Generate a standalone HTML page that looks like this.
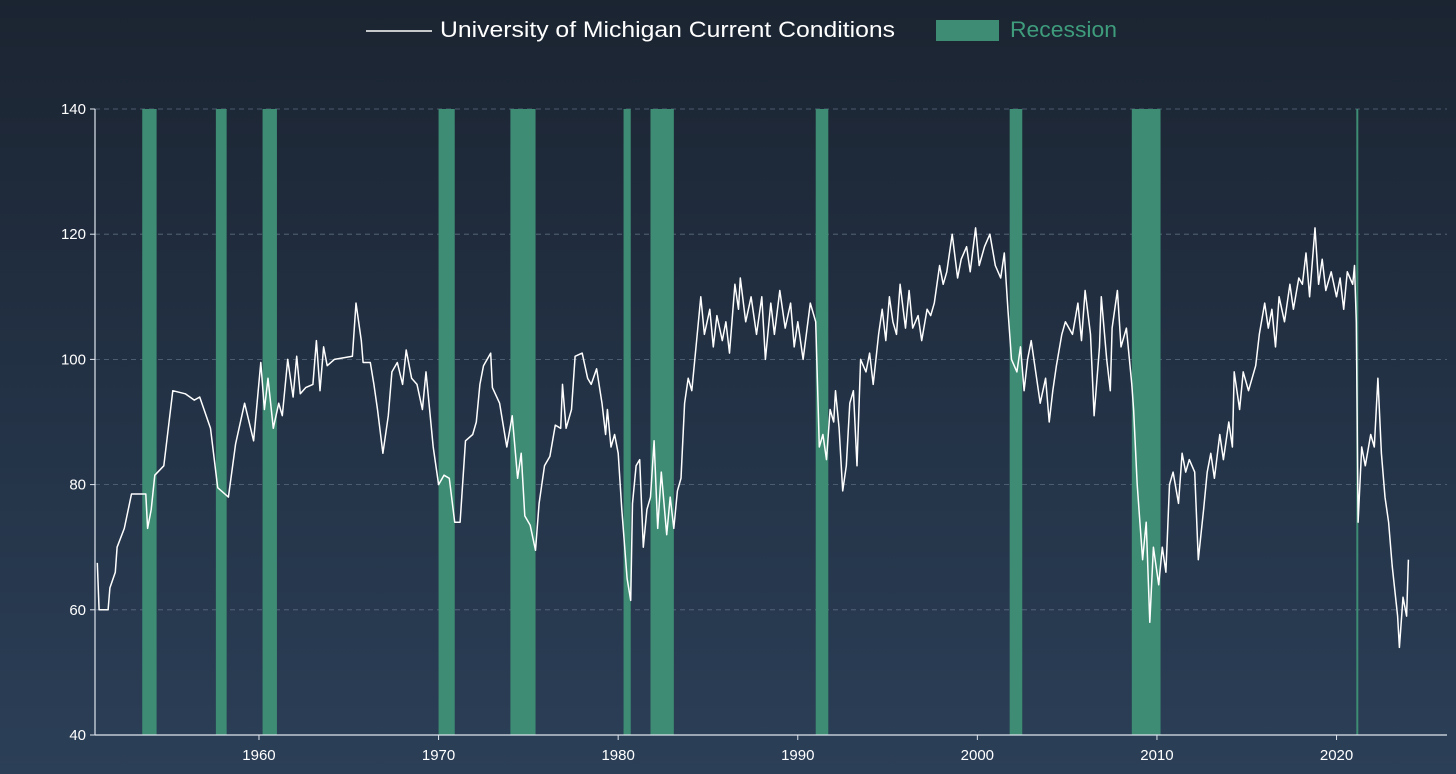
<!DOCTYPE html>
<html><head><meta charset="utf-8"><style>
html,body{margin:0;padding:0}
body{width:1456px;height:774px;overflow:hidden;background:linear-gradient(180deg,#1b2431 0%,#223043 45%,#2b3f57 100%);font-family:"Liberation Sans",sans-serif}
svg{display:block}
</style></head><body>
<svg id="chart" width="1456" height="774" xmlns="http://www.w3.org/2000/svg">
<g>
<line x1="366" y1="31" x2="432" y2="31" stroke="#fff" stroke-width="1.5"/>
<text x="440" y="37" fill="#fff" font-size="22" textLength="455" lengthAdjust="spacingAndGlyphs">University of Michigan Current Conditions</text>
<rect x="936" y="20" width="63" height="21" fill="#3e8c74"/>
<text x="1010" y="37" fill="#3e9c7c" font-size="22" textLength="107" lengthAdjust="spacingAndGlyphs">Recession</text>
</g>
<g id="grid"></g><g id="rec"></g><g id="axes"></g><g id="series"></g>
</svg>
<script>
const recStart=[1953.5,1957.6,1960.2,1970.0,1974.0,1980.3,1981.8,1991.0,2001.8,2008.6,2021.1];
const recEnd=[1954.3,1958.2,1961.0,1970.9,1975.4,1980.7,1983.1,1991.7,2002.5,2010.2,2021.2];
const yTicks=[40,60,80,100,120,140];
const xTicks=[1960,1970,1980,1990,2000,2010,2020];
const years=[1951.0,1951.1,1951.6,1951.7,1952.0,1952.1,1952.5,1952.9,1953.7,1953.8,1954.0,1954.2,1954.7,1955.2,1955.9,1956.4,1956.7,1957.3,1957.7,1958.3,1958.7,1959.2,1959.7,1960.1,1960.3,1960.5,1960.8,1961.1,1961.3,1961.6,1961.9,1962.1,1962.3,1962.6,1963.0,1963.2,1963.4,1963.6,1963.8,1964.2,1965.2,1965.4,1965.7,1965.8,1966.2,1966.4,1966.6,1966.9,1967.2,1967.4,1967.7,1968.0,1968.2,1968.5,1968.8,1969.1,1969.3,1969.5,1969.7,1970.0,1970.3,1970.6,1970.9,1971.2,1971.5,1971.9,1972.1,1972.3,1972.5,1972.9,1973.0,1973.4,1973.8,1974.1,1974.4,1974.6,1974.8,1975.1,1975.4,1975.6,1975.9,1976.2,1976.5,1976.8,1976.9,1977.1,1977.4,1977.6,1978.0,1978.3,1978.5,1978.8,1979.1,1979.3,1979.4,1979.6,1979.8,1980.0,1980.2,1980.5,1980.7,1980.8,1981.0,1981.2,1981.4,1981.6,1981.8,1982.0,1982.2,1982.4,1982.7,1982.9,1983.1,1983.3,1983.5,1983.7,1983.9,1984.1,1984.4,1984.6,1984.8,1985.1,1985.3,1985.5,1985.8,1986.0,1986.2,1986.5,1986.7,1986.8,1987.1,1987.4,1987.7,1988.0,1988.2,1988.5,1988.7,1989.0,1989.3,1989.6,1989.8,1990.0,1990.3,1990.7,1991.0,1991.2,1991.4,1991.6,1991.8,1992.0,1992.1,1992.3,1992.5,1992.7,1992.9,1993.1,1993.3,1993.5,1993.8,1994.0,1994.2,1994.5,1994.7,1994.9,1995.1,1995.3,1995.5,1995.7,1996.0,1996.2,1996.4,1996.7,1996.9,1997.2,1997.4,1997.6,1997.9,1998.1,1998.3,1998.6,1998.9,1999.1,1999.4,1999.6,1999.9,2000.1,2000.4,2000.7,2001.0,2001.3,2001.5,2001.7,2001.9,2002.2,2002.4,2002.6,2002.8,2003.0,2003.3,2003.5,2003.8,2004.0,2004.2,2004.4,2004.7,2004.9,2005.3,2005.6,2005.8,2006.0,2006.3,2006.5,2006.8,2006.9,2007.2,2007.4,2007.5,2007.8,2008.0,2008.3,2008.6,2008.7,2008.9,2009.2,2009.4,2009.6,2009.8,2010.1,2010.3,2010.5,2010.7,2010.9,2011.2,2011.4,2011.6,2011.8,2012.1,2012.3,2012.6,2012.8,2013.0,2013.2,2013.5,2013.7,2014.0,2014.2,2014.3,2014.6,2014.8,2015.1,2015.3,2015.5,2015.7,2016.0,2016.2,2016.4,2016.6,2016.8,2017.1,2017.4,2017.6,2017.9,2018.1,2018.3,2018.5,2018.8,2019.0,2019.2,2019.4,2019.7,2020.0,2020.2,2020.4,2020.6,2020.9,2021.0,2021.1,2021.2,2021.4,2021.6,2021.9,2022.1,2022.3,2022.5,2022.7,2022.9,2023.1,2023.4,2023.5,2023.7,2023.9,2024.0];
const values=[67.5,60,60,63.5,66,70,73,78.5,78.5,73,76,81.5,83,95,94.5,93.5,94,89,79.5,78,86.5,93,87,99.5,92,97,89,93,91,100,94,100.5,94.5,95.5,96,103,95,102,99,100,100.5,109,103,99.5,99.5,96,92,85,91,98,99.5,96,101.5,97,96,92,98,92,86,80,81.5,81,74,74,87,88,90,96,99,101,95.5,93,86,91,81,85,75,73.5,69.5,77,83,84.5,89.5,89,96,89,92,100.5,101,97,96,98.5,93,88,92,86,88,85,76,65,61.5,77,83,84,70,76,78,87,73,82,72,78,73,79,81,93,97,95,104,110,104,108,102,107,103,106,101,112,108,113,106,110,104,110,100,109,104,111,105,109,102,106,100,109,106,86,88,84,92,90,95,89,79,83,93,95,83,100,98,101,96,104,108,103,110,106,104,112,105,111,105,107,103,108,107,109,115,112,114,120,113,116,118,114,121,115,118,120,115,113,117,108,100,98,102,95,100,103,97,93,97,90,95,99,104,106,104,109,103,111,104,91,102,110,100,95,105,111,102,105,96,92,80,68,74,58,70,64,70,66,80,82,77,85,82,84,82,68,76,82,85,81,88,84,90,86,98,92,98,95,97,99,104,109,105,108,102,110,106,112,108,113,112,117,110,121,112,116,111,114,110,113,108,114,112,115,106,74,86,83,88,86,97,85,78,74,67,59,54,62,59,68];
const NS='http://www.w3.org/2000/svg';
const L=95,R=1447,T=109,B=735,X0=1950.87,X1=2026.15;
const xs=v=>L+(v-X0)/(X1-X0)*(R-L);
const ys=v=>B-(v-40)/100*(B-T);
function mk(tag,attrs,parent){const e=document.createElementNS(NS,tag);for(const k in attrs)e.setAttribute(k,attrs[k]);document.getElementById(parent).appendChild(e);return e;}
yTicks.forEach(t=>{
 if(t>40){const g=mk('line',{x1:L,x2:R,y1:ys(t),y2:ys(t),stroke:'#5a6b80','stroke-width':0.8,'stroke-dasharray':'5,4'},'grid');
 
 }
 const tk=mk('line',{x1:L-5,x2:L,y1:ys(t),y2:ys(t),stroke:'#dfe6ee'},'axes');
 
 
 const tx=mk('text',{x:L-9,y:ys(t)+5,fill:'#fff','font-size':15,'text-anchor':'end'},'axes');tx.textContent=t;
 
 
});
xTicks.forEach(t=>{
 const tk=mk('line',{x1:xs(t),x2:xs(t),y1:B,y2:B+5,stroke:'#dfe6ee'},'axes');
 
 
 const tx=mk('text',{x:xs(t),y:B+25,fill:'#fff','font-size':15,'text-anchor':'middle'},'axes');tx.textContent=t;
 
 
});
const ya=mk('line',{x1:L,x2:L,y1:T,y2:B,stroke:'#dfe6ee','stroke-width':1.2},'axes');


const xa=mk('line',{x1:L,x2:R,y1:B,y2:B,stroke:'#dfe6ee','stroke-width':1.2},'axes');


recStart.forEach((s,i)=>{
 const r=mk('rect',{x:xs(s),y:T,width:Math.max(2,xs(recEnd[i])-xs(s)),height:B-T,fill:'#3e8c74'},'rec');
 
 
});
const d=years.map((y,i)=>(i?'L':'M')+xs(y).toFixed(1)+','+ys(values[i]).toFixed(1)).join('');
const p=mk('path',{d:d,fill:'none',stroke:'#fff','stroke-width':1.5,'stroke-linejoin':'round'},'series');


</script>
</body></html>
